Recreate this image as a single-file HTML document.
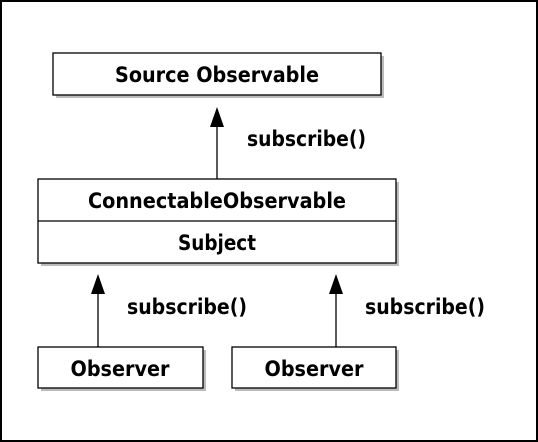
<!DOCTYPE html>
<html><head><meta charset="utf-8"><style>
html,body{margin:0;padding:0;background:#fff}
svg{display:block}
text{font-family:"DejaVu Sans Condensed","DejaVu Sans","Liberation Sans",sans-serif;font-weight:bold;font-size:21px;fill:#000}
</style></head><body>
<svg width="538" height="442" viewBox="0 0 538 442" xmlns="http://www.w3.org/2000/svg">
<rect x="1" y="1" width="536" height="440" fill="#fff" stroke="#000" stroke-width="2"/>
<g fill="#bbb">
<rect x="56" y="56" width="328" height="42"/>
<rect x="41" y="182" width="358" height="84"/>
<rect x="41" y="350" width="165" height="41"/>
<rect x="235" y="350" width="164" height="41"/>
</g>
<g fill="#fff" stroke="#000" stroke-width="1.3">
<rect x="53" y="53" width="328" height="42"/>
<rect x="38" y="179" width="358" height="84"/>
<rect x="38" y="347" width="165" height="41"/>
<rect x="232" y="347" width="164" height="41"/>
</g>
<line x1="38" y1="221" x2="396" y2="221" stroke="#000" stroke-width="1.3"/>
<g stroke="#000" stroke-width="1.3">
<line x1="217" y1="179" x2="217" y2="120"/>
<line x1="98" y1="347" x2="98" y2="288"/>
<line x1="336" y1="347" x2="336" y2="288"/>
</g>
<g fill="#000">
<polygon points="217,107 210,127 224,127"/>
<polygon points="98,274 91,294 105,294"/>
<polygon points="336,274 329,294 343,294"/>
</g>
<text x="217" y="82" text-anchor="middle" textLength="204" lengthAdjust="spacingAndGlyphs">Source Observable</text>
<text x="217" y="208" text-anchor="middle" textLength="258" lengthAdjust="spacingAndGlyphs">ConnectableObservable</text>
<text x="217" y="250" text-anchor="middle" textLength="78" lengthAdjust="spacingAndGlyphs">Subject</text>
<text x="120" y="376" text-anchor="middle" textLength="99" lengthAdjust="spacingAndGlyphs">Observer</text>
<text x="314" y="376" text-anchor="middle" textLength="99" lengthAdjust="spacingAndGlyphs">Observer</text>
<text x="247" y="146" textLength="119" lengthAdjust="spacingAndGlyphs">subscribe()</text>
<text x="127" y="314" textLength="120" lengthAdjust="spacingAndGlyphs">subscribe()</text>
<text x="365" y="314" textLength="120" lengthAdjust="spacingAndGlyphs">subscribe()</text>
</svg>
</body></html>
